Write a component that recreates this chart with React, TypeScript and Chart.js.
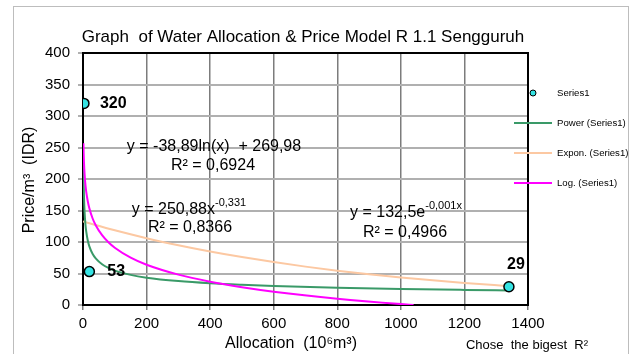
import React, { useEffect, useRef } from "react";
import { Chart, registerables } from "chart.js";

Chart.register(...registerables);

const pointAlloc = [3, 20, 1340];
const pointPrice = [320, 53, 29];
const pointLabels = ["320", "53", "29"];

const powerAlloc = [1.4, 2, 3, 4, 6, 8, 10, 15, 20, 30, 40, 60, 80, 100, 150, 200, 300, 400, 500, 600, 800, 1000, 1200, 1340];
const powerPrice = [224.4, 199.5, 174.4, 158.5, 138.6, 126.0, 117.1, 102.4, 93.1, 81.4, 74.0, 64.7, 58.8, 54.6, 47.8, 43.4, 38.0, 34.5, 32.1, 30.2, 27.5, 25.5, 24.0, 23.1];

const logAlloc = [1.4, 2, 3, 4, 6, 8, 10, 15, 20, 30, 40, 60, 80, 100, 150, 200, 300, 400, 500, 600, 800, 1000, 1040];
const logPrice = [256.9, 243.0, 227.3, 216.1, 200.3, 189.1, 180.4, 164.7, 153.5, 137.7, 126.5, 110.8, 99.6, 90.9, 75.1, 63.9, 48.2, 37.0, 28.3, 21.2, 10.0, 1.4, 0];

const exponAlloc = [0, 100, 200, 300, 400, 500, 600, 700, 800, 900, 1000, 1100, 1200, 1340];
const exponPrice = [132.5, 118.6, 106.1, 95.0, 85.0, 76.1, 68.1, 60.9, 54.5, 48.8, 43.7, 39.1, 35.0, 29.9];

const xTicks = [0, 200, 400, 600, 800, 1000, 1200, 1400];
const yTicks = [0, 50, 100, 150, 200, 250, 300, 350, 400];

const legendNames = ["Series1", "Power (Series1)", "Expon. (Series1)", "Log. (Series1)"];

const FONT = "'Liberation Sans', Arial, sans-serif";
const CYAN = "#35e3e3";
const GREEN = "#3a9a68";
const ORANGE = "#fcc8a2";
const MAGENTA = "#ff00ff";

function toXY(xs: number[], ys: number[]) {
  return xs.map((x, i) => ({ x, y: ys[i] }));
}

function drawSup(ctx: CanvasRenderingContext2D, base: string, sup: string, cx: number, cy: number) {
  ctx.font = `16px ${FONT}`;
  const wb = ctx.measureText(base).width;
  ctx.font = `11px ${FONT}`;
  const ws = ctx.measureText(sup).width;
  const start = cx - (wb + ws) / 2;
  ctx.textAlign = "left";
  ctx.textBaseline = "middle";
  ctx.font = `16px ${FONT}`;
  ctx.fillText(base, start, cy);
  ctx.font = `11px ${FONT}`;
  ctx.fillText(sup, start + wb, cy - 7);
}

const deco = {
  id: "deco",
  beforeDraw(chart: any) {
    const ctx = chart.ctx as CanvasRenderingContext2D;
    ctx.save();
    ctx.fillStyle = "#ffffff";
    ctx.fillRect(0, 0, chart.width, chart.height);
    ctx.strokeStyle = "#bdbdbd";
    ctx.lineWidth = 1;
    ctx.strokeRect(13.5, 6.5, 615, 400);
    ctx.restore();
  },
  beforeDatasetsDraw(chart: any) {
    const ctx = chart.ctx as CanvasRenderingContext2D;
    const { left, top, right, bottom } = chart.chartArea;
    ctx.save();
    ctx.strokeStyle = "#000";
    ctx.lineWidth = 2;
    ctx.strokeRect(left, top, right - left, bottom - top);
    ctx.restore();
  },
  afterDraw(chart: any) {
    const ctx = chart.ctx as CanvasRenderingContext2D;
    const xs = chart.scales.x;
    const ys = chart.scales.y;
    ctx.save();
    ctx.fillStyle = "#000";
    // title
    ctx.font = `17px ${FONT}`;
    ctx.textAlign = "center";
    ctx.textBaseline = "middle";
    ctx.fillText("Graph  of Water Allocation & Price Model R 1.1 Sengguruh", 303, 37);
    // axis titles
    ctx.font = `16px ${FONT}`;
    ctx.fillText("Allocation  (10⁶m³)", 291, 344);
    ctx.font = `13px ${FONT}`;
    ctx.fillText("Chose  the bigest  R²", 527, 345);
    ctx.save();
    ctx.translate(30, 180);
    ctx.rotate(-Math.PI / 2);
    ctx.font = `16px ${FONT}`;
    ctx.fillText("Price/m³  (IDR)", 0, 0);
    ctx.restore();
    // equations
    ctx.font = `16px ${FONT}`;
    ctx.textAlign = "center";
    ctx.fillText("y = -38,89ln(x)  + 269,98", 214, 147);
    ctx.fillText("R² = 0,6924", 213, 166);
    drawSup(ctx, "y = 250,88x", "-0,331", 189, 210);
    ctx.textAlign = "center";
    ctx.font = `16px ${FONT}`;
    ctx.fillText("R² = 0,8366", 190, 228);
    drawSup(ctx, "y = 132,5e", "-0,001x", 406, 213);
    ctx.textAlign = "center";
    ctx.font = `16px ${FONT}`;
    ctx.fillText("R² = 0,4966", 405, 233);
    // data labels
    ctx.font = `bold 16px ${FONT}`;
    const offs = [[16, 0, "left"], [18, 0, "left"], [7, -22, "center"]];
    pointAlloc.forEach((a, i) => {
      const px = xs.getPixelForValue(a);
      const py = ys.getPixelForValue(pointPrice[i]);
      ctx.textAlign = offs[i][2] as CanvasTextAlign;
      ctx.fillText(pointLabels[i], px + (offs[i][0] as number), py + (offs[i][1] as number));
    });
    // legend
    const colors = [CYAN, GREEN, ORANGE, MAGENTA];
    ctx.font = `9.6px ${FONT}`;
    ctx.textAlign = "left";
    legendNames.forEach((name, i) => {
      const y = 93 + i * 30;
      if (i === 0) {
        ctx.beginPath();
        ctx.arc(533, y, 3, 0, Math.PI * 2);
        ctx.fillStyle = CYAN;
        ctx.fill();
        ctx.strokeStyle = "#000";
        ctx.lineWidth = 1;
        ctx.stroke();
      } else {
        ctx.beginPath();
        ctx.moveTo(514, y);
        ctx.lineTo(552, y);
        ctx.strokeStyle = colors[i];
        ctx.lineWidth = 2;
        ctx.stroke();
      }
      ctx.fillStyle = "#000";
      ctx.fillText(name, 557, y);
    });
    ctx.restore();
  },
};

export default function App() {
  const ref = useRef<HTMLCanvasElement>(null);
  useEffect(() => {
    if (!ref.current) return;
    const chart = new Chart(ref.current, {
      type: "scatter",
      data: {
        datasets: [
          {
            label: "Series1",
            data: toXY(pointAlloc, pointPrice),
            backgroundColor: CYAN,
            borderColor: "#000",
            borderWidth: 1.5,
            pointRadius: 5,
            showLine: false,
            order: 0,
          },
          {
            label: "Power (Series1)",
            data: toXY(powerAlloc, powerPrice),
            borderColor: GREEN,
            borderWidth: 2,
            pointRadius: 0,
            showLine: true,
            cubicInterpolationMode: "monotone",
            order: 2,
          },
          {
            label: "Expon. (Series1)",
            data: toXY(exponAlloc, exponPrice),
            borderColor: ORANGE,
            borderWidth: 2,
            pointRadius: 0,
            showLine: true,
            cubicInterpolationMode: "monotone",
            order: 3,
          },
          {
            label: "Log. (Series1)",
            data: toXY(logAlloc, logPrice),
            borderColor: MAGENTA,
            borderWidth: 2,
            pointRadius: 0,
            showLine: true,
            cubicInterpolationMode: "monotone",
            order: 1,
          },
        ],
      },
      options: {
        animation: false,
        responsive: false,
        layout: { padding: { top: 53, right: 105, bottom: 0, left: 0 } },
        plugins: { legend: { display: false }, title: { display: false }, tooltip: { enabled: false } },
        scales: {
          x: {
            type: "linear",
            min: 0,
            max: 1400,
            afterFit: (s: any) => { s.height = 49; },
            afterBuildTicks: (s: any) => { s.ticks = xTicks.map((v) => ({ value: v })); },
            ticks: { color: "#000", font: { family: FONT, size: 15 }, padding: 5, maxRotation: 0, callback: (v: any) => String(v) },
            grid: { color: "#7c7c7c", lineWidth: 1.5, tickLength: 5 },
            border: { display: false },
          },
          y: {
            type: "linear",
            min: 0,
            max: 400,
            afterFit: (s: any) => { s.width = 83; },
            afterBuildTicks: (s: any) => { s.ticks = yTicks.map((v) => ({ value: v })); },
            ticks: { color: "#000", font: { family: FONT, size: 15 }, padding: 8, callback: (v: any) => String(v) },
            grid: { color: "#b0b0b0", lineWidth: 2, tickLength: 5 },
            border: { display: false },
          },
        },
      },
      plugins: [deco],
    } as any);
    return () => chart.destroy();
  }, []);
  return (
    <div style={{ position: "fixed", left: 0, top: 0, width: 633, height: 354, background: "#fff" }}>
      <canvas ref={ref} width={633} height={354} />
    </div>
  );
}
